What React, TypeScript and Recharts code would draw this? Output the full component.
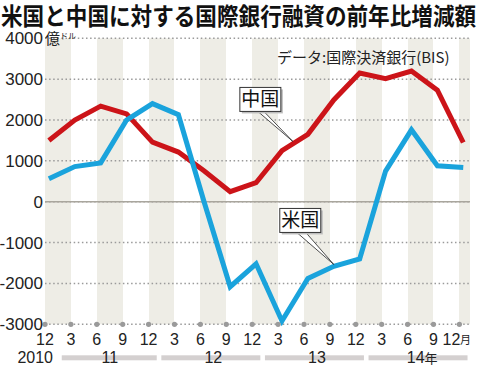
import React from "react";
import {
  ComposedChart,
  Line,
  XAxis,
  YAxis,
  CartesianGrid,
  ReferenceLine,
  ReferenceDot,
} from "recharts";

// quarter-end ticks, Dec 2010 .. Dec 2014
const months = ["12", "3", "6", "9", "12", "3", "6", "9", "12", "3", "6", "9", "12", "3", "6", "9", "12"];
// year-on-year change, 100M dollars
const china = [1500, 2000, 2340, 2150, 1460, 1215, 750, 245, 465, 1250, 1650, 2490, 3150, 3010, 3200, 2730, 1450];
const usa = [560, 860, 950, 2000, 2400, 2130, -20, -2080, -1520, -2920, -1880, -1580, -1400, 750, 1760, 880, 840];
const yearLabels = ["2010", "11", "12", "13", "14"];
const yTicks = [-3000, -2000, -1000, 0, 1000, 2000, 3000, 4000];

const RED = "#cc1419";
const BLUE = "#1aa3dc";
const NUM_FONT = "'Liberation Sans', Arial, sans-serif";
const JP_FONT = "'Noto Sans CJK JP', sans-serif";

const data = months.map((m, i) => ({ i, china: china[i], usa: usa[i] }));
const SHIFT = 0.15; // tick marks sit a little left of the data points
const monthTicks = months.map((_, i) => i - SHIFT);
const yearTicks = [-SHIFT, 2.5 - SHIFT, 6.5 - SHIFT, 10.5 - SHIFT, 14.5 - SHIFT];

function MonthTick(props: any) {
  const x = Number(props.x);
  const y = Number(props.y);
  const index = props.index;
  const last = index === months.length - 1;
  return (
    <g>
      <circle cx={x} cy={y} r={2.6} fill="#9a9a9a" />
      {last ? (
        <text x={x + 1} y={y + 21} textAnchor="end" fontSize={16} fontFamily={NUM_FONT} fill="#222">
          {months[index]}
        </text>
      ) : (
        <text x={x} y={y + 21} textAnchor="middle" fontSize={16} fontFamily={NUM_FONT} fill="#222">
          {months[index]}
        </text>
      )}
      {last && (
        <text x={x + 0.5} y={y + 20} fontSize={11} fontFamily={JP_FONT} fill="#222">
          月
        </text>
      )}
    </g>
  );
}

function YearTick(props: any) {
  const x = Number(props.x);
  const y = Number(props.y);
  const index = props.index;
  const label = yearLabels[index];
  if (index === 0) {
    return (
      <text x={x + 8} y={y + 16.5} textAnchor="end" fontSize={16} fontFamily={NUM_FONT} fill="#222">
        {label}
      </text>
    );
  }
  const left = index === 1 ? 48 : 52;
  const last = index === yearLabels.length - 1;
  return (
    <g>
      <rect x={x - left} y={y + 9} width={left + 47} height={5} fill="#d4d0d0" />
      {last ? (
        <>
          <text x={x + 4} y={y + 16.5} textAnchor="end" fontSize={16} fontFamily={NUM_FONT} fill="#222">
            {label}
          </text>
          <text x={x + 4} y={y + 16.5} fontSize={13} fontFamily={JP_FONT} fill="#222">
            年
          </text>
        </>
      ) : (
        <text x={x} y={y + 16.5} textAnchor="middle" fontSize={16} fontFamily={NUM_FONT} fill="#222">
          {label}
        </text>
      )}
    </g>
  );
}

function ValueTick(props: any) {
  const x = Number(props.x);
  const y = Number(props.y);
  const v = props.payload.value;
  return (
    <g>
      <text x={x} y={y + 6} textAnchor="end" fontSize={17} fontFamily={NUM_FONT} fill="#222">
        {v}
      </text>
      {v === 4000 && (
        <text x={x + 2} y={y + 6} fontSize={15} fontFamily={JP_FONT} fill="#222">
          億
        </text>
      )}
      {v === 4000 && (
        <text x={x + 17} y={y + 1} fontSize={8} fontFamily={JP_FONT} fill="#222">
          ドル
        </text>
      )}
    </g>
  );
}

// label box with a wedge-shaped leader pointing at the line
function Callout({ cx, cy, text, bx, by, w1, w2 }: any) {
  const boxX = cx + bx;
  const boxY = cy + by;
  return (
    <g>
      <polygon
        points={`${cx + w1},${boxY + 24} ${cx + w2},${boxY + 24} ${cx},${cy}`}
        fill="#fff"
        stroke="#222"
        strokeWidth={0.8}
      />
      <rect x={boxX + 2} y={boxY + 2} width={41} height={24} fill="#bdbdbd" />
      <rect x={boxX} y={boxY} width={41} height={24} fill="#fff" stroke="#333" strokeWidth={1} />
      <text
        x={boxX + 20.5}
        y={boxY + 19}
        textAnchor="middle"
        fontSize={19}
        fontFamily={JP_FONT}
        fill="#111"
      >
        {text}
      </text>
    </g>
  );
}

export default function App() {
  return (
    <div style={{ position: "absolute", left: 0, top: 0, width: 480, height: 371, background: "#fff" }}>
      <div
        style={{
          position: "absolute",
          left: 1,
          top: 0.6,
          fontFamily: JP_FONT,
          fontWeight: 700,
          fontSize: 21.6,
          lineHeight: "23px",
          whiteSpace: "nowrap",
          color: "#111",
          transform: "scaleY(1.12)",
          transformOrigin: "0 0",
        }}
      >
        米国と中国に対する国際銀行融資の前年比増減額
      </div>
      <div style={{ position: "absolute", left: 0, top: 0 }}>
        <ComposedChart
          width={480}
          height={371}
          data={data}
          margin={{ top: 38.3, right: 10, left: 0, bottom: 0.7 }}
        >
          <CartesianGrid
            horizontal={false}
            vertical
            stroke="none"
            verticalFill={["#eeede6", "#ffffff"]}
          />
          <CartesianGrid
            vertical={false}
            stroke="#9a9a9a"
            strokeWidth={1.5}
            strokeDasharray="1.5 2.6"
          />
          <XAxis
            dataKey="i"
            type="number"
            domain={[-SHIFT, 16.26]}
            ticks={monthTicks}
            interval={0}
            height={22}
            axisLine={false}
            tickLine={false}
            tickSize={0}
            tickMargin={0}
            tick={<MonthTick />}
          />
          <XAxis
            xAxisId="yr"
            dataKey="i"
            type="number"
            domain={[-SHIFT, 16.26]}
            ticks={yearTicks}
            interval={0}
            height={24}
            axisLine={false}
            tickLine={false}
            tickSize={0}
            tickMargin={0}
            tick={<YearTick />}
          />
          <YAxis
            type="number"
            domain={[-3000, 4000]}
            ticks={yTicks}
            interval={0}
            width={45}
            axisLine={false}
            tickLine={false}
            tickSize={0}
            tickMargin={2}
            tick={<ValueTick />}
          />
          <ReferenceLine y={0} stroke="#a9a69d" strokeWidth={1.5} />
          <Line
            type="linear"
            dataKey="china"
            stroke={RED}
            strokeWidth={5}
            dot={false}
            isAnimationActive={false}
          />
          <Line
            type="linear"
            dataKey="usa"
            stroke={BLUE}
            strokeWidth={5}
            dot={false}
            isAnimationActive={false}
          />
          <ReferenceDot
            x={9.42}
            y={1476}
            r={0}
            shape={(p: any) => <Callout cx={p.cx} cy={p.cy} text="中国" bx={-53} by={-54} w1={-35} w2={-29} />}
          />
          <ReferenceDot
            x={11.0}
            y={-1535}
            r={0}
            shape={(p: any) => <Callout cx={p.cx} cy={p.cy} text="米国" bx={-54} by={-56} w1={-37} w2={-28} />}
          />
        </ComposedChart>
      </div>
      <div
        style={{
          position: "absolute",
          left: 277,
          top: 47,
          fontFamily: JP_FONT,
          fontSize: 15,
          lineHeight: "20px",
          whiteSpace: "nowrap",
          color: "#222",
        }}
      >
        データ:国際決済銀行(BIS)
      </div>
    </div>
  );
}
